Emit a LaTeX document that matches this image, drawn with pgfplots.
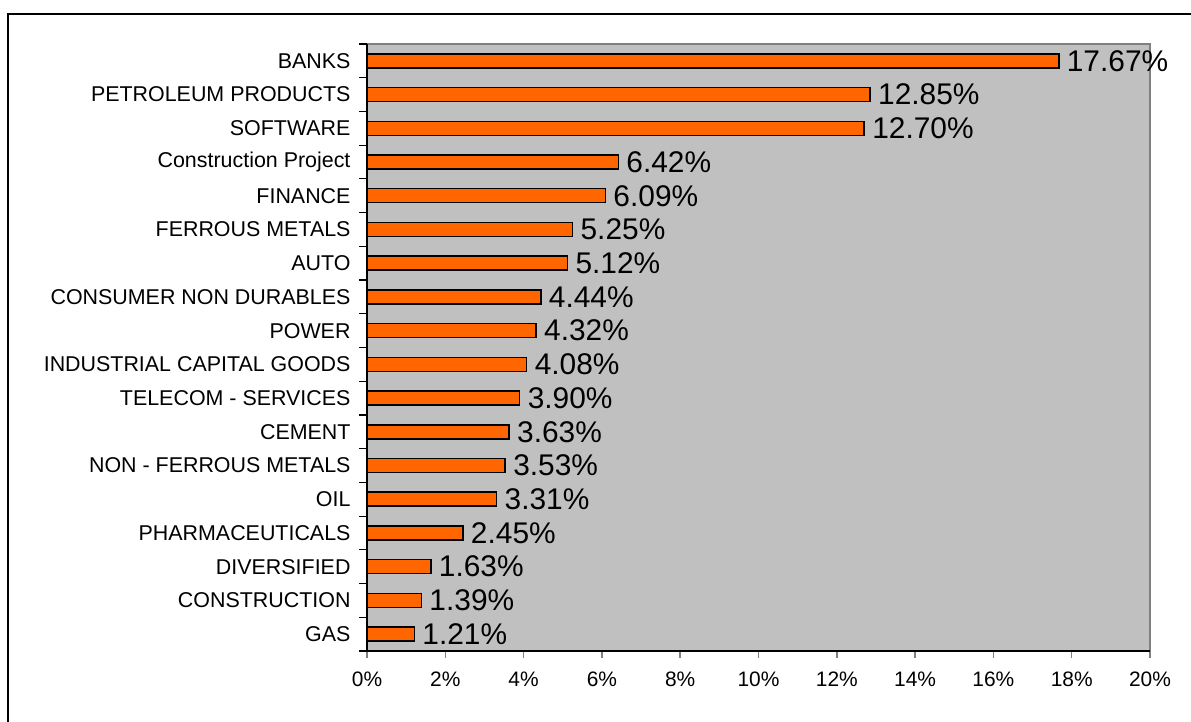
\documentclass[border=0pt]{standalone}
\usepackage{pgfplots}
\pgfplotsset{compat=1.18}
\usepackage{fontspec}
\setmainfont{Liberation Sans}
\definecolor{plotgray}{HTML}{C0C0C0}
\definecolor{edgegray}{HTML}{808080}
\definecolor{barorange}{HTML}{FF6600}

\pgfplotstableread{
pos value
0  1.21
1  1.39
2  1.63
3  2.45
4  3.31
5  3.53
6  3.63
7  3.90
8  4.08
9  4.32
10 4.44
11 5.12
12 5.25
13 6.09
14 6.42
15 12.70
16 12.85
17 17.67
}\sectors

\begin{document}
\begin{tikzpicture}
\useasboundingbox (0,0) rectangle (1191bp,722bp);
% outer frame (only top and left edges are visible)
\draw[line width=1.2bp] (8bp,0) -- (8bp,708bp) -- (1191bp,708bp);
\begin{axis}[
    at={(367bp,71bp)}, anchor=south west,
    scale only axis,
    width=783bp, height=607bp,
    xbar, bar width=14bp,
    xmin=0, xmax=20,
    ymin=-0.5, ymax=17.5,
    /pgf/number format/assume math mode=true,
    axis background/.style={fill=plotgray, draw=edgegray, line width=1.5bp},
    axis x line*=bottom, axis y line*=left,
    axis line style={-, black, line width=1.5bp},
    xtick={0,2,...,20},
    xticklabels={0\%,2\%,4\%,6\%,8\%,10\%,12\%,14\%,16\%,18\%,20\%},
    ytick={0,...,17},
    yticklabels={GAS,CONSTRUCTION,DIVERSIFIED,PHARMACEUTICALS,OIL,NON - FERROUS METALS,CEMENT,TELECOM - SERVICES,INDUSTRIAL CAPITAL GOODS,POWER,CONSUMER NON DURABLES,AUTO,FERROUS METALS,FINANCE,Construction Project,SOFTWARE,PETROLEUM PRODUCTS,BANKS},
    minor ytick={-0.5,0.5,...,17.5},
    tick align=outside,
    major tick length=7bp,
    minor tick length=8bp,
    y tick style={draw=none},
    minor y tick style={draw=black, line width=1.2bp},
    x tick style={draw=edgegray, line width=1.5bp},
    xticklabel style={font=\fontsize{21}{22}\selectfont, yshift=-10bp},
    yticklabel style={font=\fontsize{21.5}{22}\selectfont, xshift=-6bp},
    nodes near coords={\pgfmathprintnumber[fixed,fixed zerofill,precision=2]{\pgfplotspointmeta}\%},
    nodes near coords align={horizontal},
    nodes near coords style={font=\fontsize{30}{30}\selectfont, xshift=4bp},
    point meta=explicit,
  ]
  \addplot[fill=barorange, draw=black, line width=1.5bp]
    table[x=value, y=pos, meta=value] {\sectors};
\end{axis}
\end{tikzpicture}
\end{document}
